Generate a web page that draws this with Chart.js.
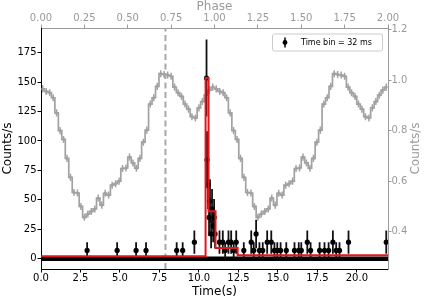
<!DOCTYPE html>
<html>
<head>
<meta charset="utf-8">
<script src="https://cdn.jsdelivr.net/npm/chart.js@4.4.1/dist/chart.umd.min.js"></script>
<style>
  html, body { margin: 0; padding: 0; background: #fff; }
  #wrap { width: 424px; height: 299px; }
</style>
</head>
<body>
<div id="wrap"><canvas id="c" width="424" height="299"></canvas></div>
<script>
// ---------- data ----------
const timeTicks = [0, 2.5, 5, 7.5, 10, 12.5, 15, 17.5, 20];
const phaseTicks = [0, 0.25, 0.5, 0.75, 1, 1.25, 1.5, 1.75, 2];
const countTicks = [0, 25, 50, 75, 100, 125, 150, 175];
const profileTicks = [0.4, 0.6, 0.8, 1.0, 1.2];

// light curve, 32 ms bins (non-zero bins only)
const lcTimes = [2.92, 4.82, 6.02, 6.65, 8.59, 8.97, 9.71,
  10.48, 10.51, 10.58, 10.64, 10.70, 10.77, 10.83, 10.90, 10.96, 11.02,
  11.30, 11.51, 11.66, 11.87, 12.04, 12.20, 12.36,
  12.84, 13.31, 13.47, 13.62, 13.83, 14.04, 14.32, 14.58, 14.78, 14.96, 15.17, 15.53,
  16.05, 16.32, 16.48, 16.86, 17.07, 17.64, 17.95, 18.21, 18.48, 18.69, 18.90, 19.47, 21.86];
const lcRates = [7, 7, 7, 7, 7, 7, 14,
  153.5, 84, 63, 35, 49, 21, 42, 28, 35, 21,
  14, 14, 7, 14, 14, 7, 14,
  7, 14, 7, 21, 7, 7, 14, 14, 7, 7, 7, 7,
  7, 7, 7, 14, 7, 7, 7, 7, 14, 7, 7, 14, 14];
const lcErrors = [7, 7, 7, 7, 7, 7, 9.9,
  32.8, 24.2, 21, 15.7, 18.5, 12.1, 17.1, 14, 15.7, 12.1,
  9.9, 9.9, 7, 9.9, 9.9, 7, 9.9,
  7, 9.9, 7, 12.1, 7, 7, 9.9, 9.9, 7, 7, 7, 7,
  7, 7, 7, 9.9, 7, 7, 7, 7, 9.9, 7, 7, 9.9, 9.9];
// zero-count bins span the whole observation
const zeroBandTimes = [0, 21.97];

// block model (red)
const blockEdges = [0, 10.42, 10.61, 11.05, 12.45, 21.97];
const blockRates = [2.1, 153.5, 40.2, 9.1, 2.8];

// pulse profile, one cycle (50 phase bins), shown twice
const profileRate = [0.965, 0.955, 0.950, 0.930, 0.870, 0.800, 0.765, 0.690, 0.615, 0.555,
  0.553, 0.500, 0.457, 0.470, 0.480, 0.490, 0.533, 0.505, 0.552, 0.545,
  0.584, 0.590, 0.600, 0.650, 0.652, 0.695, 0.672, 0.651, 0.690, 0.754,
  0.802, 0.905, 0.930, 0.975, 1.025, 1.022, 1.020, 1.015, 0.972, 0.950,
  0.935, 0.905, 0.885, 0.855, 0.850, 0.890, 0.915, 0.940, 0.960, 0.972];
const profileErr = 0.014;
const profileCycles = [0, 1];

const markerTime = 7.88; // dashed vertical line

// axis limits
const timeMin = 0, timeMax = 21.97;
const phaseMin = 0, phaseMax = 2;
const countMin = -8.8, countMax = 196;
const profMin = 0.2524, profMax = 1.2059;

// ---------- build datasets ----------
const FONT = "'DejaVu Sans', 'Liberation Sans', sans-serif";
const GREY = '#9a9a9a';
const CURVE = '#a2a2a2';
const RED = '#e3161d';

const lcData = lcTimes.map((t, i) => ({ x: t, y: lcRates[i] }));
const blockData = blockEdges.map((e, i) => ({ x: e, y: blockRates[Math.min(i, blockRates.length - 1)] }));
const nb = profileRate.length;
const profData = [];
profileCycles.forEach(c => profileRate.forEach((v, i) => profData.push({ x: c + (i + 0.5) / nb, y: v })));
const profErrs = profData.map(() => profileErr);

const errorBars = {
  id: 'errorBars',
  beforeDatasetDraw(chart, args) {
    const ds = chart.data.datasets[args.index];
    if (!ds.errors) return;
    const meta = args.meta;
    const xs = chart.scales[meta.xAxisID], ys = chart.scales[meta.yAxisID];
    const ctx = chart.ctx;
    ctx.save();
    ctx.strokeStyle = ds.errorColor;
    ctx.lineWidth = ds.errorWidth;
    ctx.beginPath();
    ds.data.forEach((p, i) => {
      const x = xs.getPixelForValue(p.x);
      ctx.moveTo(x, ys.getPixelForValue(p.y - ds.errors[i]));
      ctx.lineTo(x, ys.getPixelForValue(p.y + ds.errors[i]));
    });
    ctx.stroke();
    ctx.restore();
  },
  afterDraw(chart) {
    const ctx = chart.ctx;
    const ca = chart.chartArea;
    // right axis title (reads bottom to top)
    ctx.save();
    ctx.fillStyle = GREY;
    ctx.font = '12px ' + FONT;
    ctx.textAlign = 'center';
    ctx.textBaseline = 'middle';
    ctx.translate(416, (ca.top + ca.bottom) / 2);
    ctx.rotate(-Math.PI / 2);
    ctx.fillText('Counts/s', 0, 0);
    ctx.restore();
    // legend
    const bw = 110, bh = 17;
    const bx = ca.right - 6 - bw, by = ca.top + 5.5;
    ctx.save();
    ctx.beginPath();
    if (ctx.roundRect) ctx.roundRect(bx + 0.5, by + 0.5, bw, bh, 2); else ctx.rect(bx + 0.5, by + 0.5, bw, bh);
    ctx.fillStyle = 'rgba(255,255,255,0.85)';
    ctx.fill();
    ctx.strokeStyle = '#cccccc';
    ctx.lineWidth = 1;
    ctx.stroke();
    const my = by + bh / 2 + 0.5, mx = bx + 13;
    ctx.strokeStyle = '#000';
    ctx.lineWidth = 1.5;
    ctx.beginPath(); ctx.moveTo(mx, my - 5); ctx.lineTo(mx, my + 5); ctx.stroke();
    ctx.fillStyle = '#000';
    ctx.beginPath(); ctx.arc(mx, my, 2.4, 0, Math.PI * 2); ctx.fill();
    ctx.font = '8px ' + FONT;
    ctx.textAlign = 'left';
    ctx.textBaseline = 'middle';
    ctx.fillText('Time bin = 32 ms', bx + 29, my);
    ctx.restore();
  }
};

function setTicks(list) { return s => { s.ticks = list.map(v => ({ value: v })); }; }

const chart = new Chart(document.getElementById('c'), {
  type: 'line',
  data: {
    datasets: [
      { label: 'model', data: blockData, xAxisID: 'x', yAxisID: 'y', stepped: 'before',
        borderColor: RED, borderWidth: 2, pointRadius: 0, fill: false, order: 0 },
      { label: 'lc', data: lcData, xAxisID: 'x', yAxisID: 'y', showLine: false,
        pointRadius: 2.6, pointStyle: 'circle', pointBackgroundColor: '#000', pointBorderColor: '#000', pointBorderWidth: 0,
        errors: lcErrors, errorColor: '#111', errorWidth: 1.8, order: 1 },
      { label: 'zero', data: zeroBandTimes.map(t => ({ x: t, y: 0 })), xAxisID: 'x', yAxisID: 'y',
        borderColor: '#000', borderWidth: 4.5, pointRadius: 0, fill: false, order: 2 },
      { label: 'marker', data: [{ x: markerTime, y: countMin }, { x: markerTime, y: countMax }], xAxisID: 'x', yAxisID: 'y',
        borderColor: '#a8a8a8', borderWidth: 2, borderDash: [6, 3.5], pointRadius: 0, fill: false, order: 3 },
      { label: 'profile', data: profData, xAxisID: 'x2', yAxisID: 'y2', stepped: 'middle',
        borderColor: CURVE, borderWidth: 1.7, pointRadius: 1.5, pointBackgroundColor: CURVE, pointBorderWidth: 0,
        errors: profErrs, errorColor: CURVE, errorWidth: 1.5, fill: false, order: 4 }
    ]
  },
  options: {
    responsive: false,
    animation: false,
    events: [],
    layout: { padding: 0 },
    plugins: { legend: { display: false }, tooltip: { enabled: false } },
    scales: {
      x: {
        type: 'linear', position: 'bottom', min: timeMin, max: timeMax,
        afterBuildTicks: setTicks(timeTicks),
        afterFit: s => { s.height = 30; },
        ticks: { callback: v => v.toFixed(1), color: '#000', font: { size: 10, family: FONT }, padding: 0, maxRotation: 0, autoSkip: false },
        grid: { drawOnChartArea: false, drawTicks: true, tickLength: 3.5, tickColor: '#000', color: '#000' },
        border: { display: true, color: '#000', width: 1 },
        title: { display: true, text: 'Time(s)', color: '#000', font: { size: 12, family: FONT }, padding: { top: 0, bottom: 0 } }
      },
      x2: {
        type: 'linear', position: 'top', min: phaseMin, max: phaseMax,
        afterBuildTicks: setTicks(phaseTicks),
        afterFit: s => { s.height = 28; },
        ticks: { callback: v => v.toFixed(2), color: GREY, font: { size: 10, family: FONT }, padding: 0, maxRotation: 0, autoSkip: false },
        grid: { drawOnChartArea: false, drawTicks: true, tickLength: 3.5, tickColor: GREY, color: GREY },
        border: { display: true, color: GREY, width: 1 },
        title: { display: true, text: 'Phase', color: GREY, font: { size: 12, family: FONT }, padding: { top: 0, bottom: 0 } }
      },
      y: {
        type: 'linear', position: 'left', min: countMin, max: countMax,
        afterBuildTicks: setTicks(countTicks),
        afterFit: s => { s.width = 41; },
        ticks: { color: '#000', font: { size: 10, family: FONT }, padding: 1, autoSkip: false },
        grid: { drawOnChartArea: false, drawTicks: true, tickLength: 3.5, tickColor: '#000', color: '#000' },
        border: { display: true, color: '#000', width: 1 },
        title: { display: true, text: 'Counts/s', color: '#000', font: { size: 12, family: FONT }, padding: { top: 1, bottom: 0 } }
      },
      y2: {
        type: 'linear', position: 'right', min: profMin, max: profMax,
        afterBuildTicks: setTicks(profileTicks),
        afterFit: s => { s.width = 36; },
        ticks: { callback: v => v.toFixed(1), color: GREY, font: { size: 10, family: FONT }, padding: 0, autoSkip: false },
        grid: { drawOnChartArea: false, drawTicks: true, tickLength: 3.5, tickColor: GREY, color: GREY },
        border: { display: true, color: GREY, width: 1 }
      }
    }
  },
  plugins: [errorBars]
});
</script>
</body>
</html>
